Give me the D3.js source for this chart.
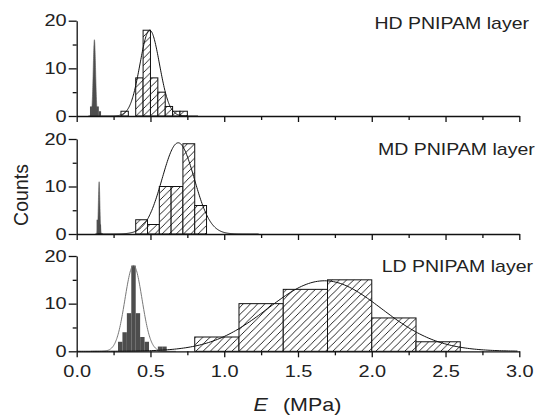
<!DOCTYPE html>
<html><head><meta charset="utf-8">
<script src="https://cdn.jsdelivr.net/npm/d3@7"></script>
<style>
html,body{margin:0;padding:0;background:#fff;overflow:hidden}
text{font-family:"Liberation Sans",Arial,sans-serif;fill:#222}
</style></head>
<body><svg id="c" width="539" height="416"></svg>
<script>
// ---------- data ----------
const xTicks = [0, 0.5, 1, 1.5, 2, 2.5, 3];
const xTickLabels = ["0.0", "0.5", "1.0", "1.5", "2.0", "2.5", "3.0"];
const xMinorTicks = [0.25, 0.75, 1.25, 1.75, 2.25, 2.75];
const yTicks = [0, 10, 20];
const yMinorTicks = [5, 15];
const panelLabels = ["HD PNIPAM layer", "MD PNIPAM layer", "LD PNIPAM layer"];

// hatched histograms (left edge, counts, bin width)
const hdHatchLeft = [0.30, 0.40, 0.45, 0.50, 0.55, 0.60, 0.65, 0.70];
const hdHatchCounts = [1, 8, 18, 8, 5, 2, 1, 1];
const hdHatchWidth = 0.05;
const mdHatchLeft = [0.40, 0.48, 0.56, 0.64, 0.72, 0.80];
const mdHatchCounts = [3, 2, 10, 10, 19, 6];
const mdHatchWidth = 0.08;
const ldHatchLeft = [0.8, 1.1, 1.4, 1.7, 2.0, 2.3];
const ldHatchCounts = [3, 10, 13, 15, 7, 2];
const ldHatchWidth = 0.3;

// dark histograms
const hdDarkLeft = [0.09, 0.105, 0.12, 0.135, 0.15];
const hdDarkCounts = [2, 2, 2, 2, 1];
const hdDarkWidth = 0.015;
const mdDarkLeft = [0.135, 0.15];
const mdDarkCounts = [3, 2];
const mdDarkWidth = 0.015;
const ldDarkLeft = [0.28, 0.31, 0.34, 0.37, 0.40, 0.43, 0.46, 0.55, 0.58];
const ldDarkCounts = [2, 4, 8, 18, 8, 3, 2, 1, 1];
const ldDarkWidth = 0.03;

// Gaussian fits [mu, sigma, amplitude]
const hdHatchFit = [0.495, 0.066, 18];
const mdHatchFit = [0.688, 0.109, 19.2];
const ldHatchFit = [1.68, 0.385, 14.8];
const hdDarkFit = [0.12, 0.008, 16];
const mdDarkFit = [0.152, 0.005, 11];
const ldDarkFit = [0.385, 0.058, 18];

// ---------- layout ----------
const SX = 1.21;
const LSX = 1.22;
const svg = d3.select("#c");
const x = d3.scaleLinear().domain([0, 3]).range([76.7, 519.3]);
const panelBox = [[20.7, 116], [139, 234], [256, 351.3]];

const defs = svg.append("defs");
const pat = defs.append("pattern").attr("id", "hatch").attr("patternUnits", "userSpaceOnUse")
  .attr("width", 7.2).attr("height", 7.2);
pat.append("rect").attr("width", 7.2).attr("height", 7.2).attr("fill", "#fff");
pat.append("path").attr("d", "M-1,1 L1,-1 M0,7.2 L7.2,0 M6.2,8.2 L8.2,6.2")
  .attr("stroke", "#111").attr("stroke-width", 0.9);

function stretchedText(g, tx, ty, str, size, anchor) {
  return g.append("g").attr("transform", `translate(${tx},${ty}) scale(${LSX},1)`)
    .append("text").attr("font-size", size).attr("text-anchor", anchor).text(str);
}

const panels = [
  {hl: hdHatchLeft, hc: hdHatchCounts, hw: hdHatchWidth, dl: hdDarkLeft, dc: hdDarkCounts, dw: hdDarkWidth,
   hf: hdHatchFit, df: hdDarkFit, spike: true, label: panelLabels[0], lx: 529, ly: 29.3, la: "end"},
  {hl: mdHatchLeft, hc: mdHatchCounts, hw: mdHatchWidth, dl: mdDarkLeft, dc: mdDarkCounts, dw: mdDarkWidth,
   hf: mdHatchFit, df: mdDarkFit, spike: true, label: panelLabels[1], lx: 378, ly: 155, la: "start"},
  {hl: ldHatchLeft, hc: ldHatchCounts, hw: ldHatchWidth, dl: ldDarkLeft, dc: ldDarkCounts, dw: ldDarkWidth,
   hf: ldHatchFit, df: ldDarkFit, spike: false, label: panelLabels[2], lx: 533, ly: 271.7, la: "end"}
];

const gauss = (p, v) => p[2] * Math.exp(-0.5 * Math.pow((v - p[0]) / p[1], 2));

panels.forEach((p, i) => {
  const [top, bot] = panelBox[i];
  const y = d3.scaleLinear().domain([0, 20]).range([bot, top]);
  const g = svg.append("g");

  // hatched bars
  g.selectAll("rect.h").data(p.hl.map((l, k) => ({l, c: p.hc[k]}))).join("rect")
    .attr("x", d => x(d.l)).attr("width", d => x(d.l + p.hw) - x(d.l))
    .attr("y", d => y(d.c)).attr("height", d => y(0) - y(d.c))
    .attr("fill", "url(#hatch)").attr("stroke", "#111").attr("stroke-width", 1);

  // dark bars
  g.selectAll("rect.d").data(p.dl.map((l, k) => ({l, c: p.dc[k]}))).join("rect")
    .attr("x", d => x(d.l)).attr("width", d => x(d.l + p.dw) - x(d.l))
    .attr("y", d => y(d.c)).attr("height", d => y(0) - y(d.c))
    .attr("fill", "#4d4d4d");

  // dark fit
  const dxs = d3.range(p.df[0] - 5 * p.df[1], p.df[0] + 5 * p.df[1], p.df[1] / 20);
  if (p.spike) {
    g.append("path").datum(dxs)
      .attr("d", d3.area().x(v => x(v)).y0(y(0)).y1(v => y(gauss(p.df, v))))
      .attr("fill", "#4d4d4d").attr("stroke", "#555").attr("stroke-width", 0.6);
  } else {
    g.append("path").datum(dxs)
      .attr("d", d3.line().x(v => x(v)).y(v => y(gauss(p.df, v))))
      .attr("fill", "none").attr("stroke", "#777").attr("stroke-width", 1);
  }

  // hatched fit
  const hxs = d3.range(Math.max(0, p.hf[0] - 5 * p.hf[1]), Math.min(3, p.hf[0] + 5 * p.hf[1]), p.hf[1] / 25);
  g.append("path").datum(hxs)
    .attr("d", d3.line().x(v => x(v)).y(v => y(gauss(p.hf, v))))
    .attr("fill", "none").attr("stroke", "#111").attr("stroke-width", 1);

  // y axis
  const ya = g.append("g").attr("transform", `translate(${x(0)},0)`)
    .call(d3.axisLeft(y).tickValues(yTicks).tickSize(8).tickSizeOuter(0));
  ya.select(".domain").attr("stroke", "#111").attr("stroke-width", 1.3);
  ya.selectAll(".tick line").attr("stroke", "#111").attr("stroke-width", 1.3);
  ya.selectAll(".tick text").attr("font-size", 16.5).attr("fill", "#222")
    .attr("font-family", '"Liberation Sans",Arial,sans-serif')
    .attr("x", -10 / SX).attr("transform", `scale(${SX},1)`);
  const ym = g.append("g").attr("transform", `translate(${x(0)},0)`)
    .call(d3.axisLeft(y).tickValues(yMinorTicks).tickSize(4).tickFormat(""));
  ym.select(".domain").remove();
  ym.selectAll(".tick line").attr("stroke", "#111").attr("stroke-width", 1.3);

  // x axis
  const xa = g.append("g").attr("transform", `translate(0,${y(0)})`)
    .call(d3.axisBottom(x).tickValues(xTicks).tickSize(6).tickSizeOuter(0)
      .tickFormat((d, k) => i === 2 ? xTickLabels[k] : ""));
  xa.select(".domain").attr("stroke", "#111").attr("stroke-width", 1.3);
  xa.selectAll(".tick line").attr("stroke", "#111").attr("stroke-width", 1.3);
  xa.selectAll(".tick text").attr("font-size", 16.5).attr("fill", "#222")
    .attr("font-family", '"Liberation Sans",Arial,sans-serif')
    .attr("y", 14).attr("transform", `scale(${SX},1)`);
  const xm = g.append("g").attr("transform", `translate(0,${y(0)})`)
    .call(d3.axisBottom(x).tickValues(xMinorTicks).tickSize(4).tickFormat(""));
  xm.select(".domain").remove();
  xm.selectAll(".tick line").attr("stroke", "#111").attr("stroke-width", 1.3);

  // panel label
  stretchedText(svg, p.lx, p.ly, p.label, 16, p.la);
});

// axis titles
svg.append("text").attr("transform", "translate(28.3,195) rotate(-90)")
  .attr("text-anchor", "middle").attr("font-size", 19.5).text("Counts");

const xt = svg.append("g").attr("transform", "translate(297.5,410.5) scale(1.13,1)")
  .append("text").attr("text-anchor", "middle").attr("font-size", 19);
xt.append("tspan").attr("font-style", "italic").text("E");
xt.append("tspan").attr("dx", "0.7em").text("(MPa)");
</script></body></html>
